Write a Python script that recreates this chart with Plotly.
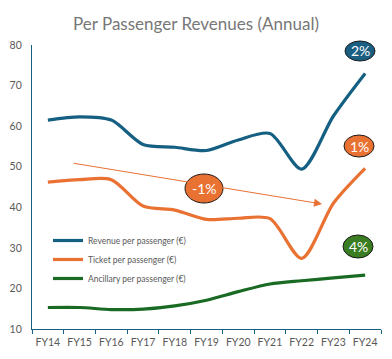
import plotly.graph_objects as go

years = ["FY14", "FY15", "FY16", "FY17", "FY18", "FY19", "FY20", "FY21", "FY22", "FY23", "FY24"]
revenue = [61.5, 62.3, 61.5, 55.5, 54.8, 54.0, 56.6, 58.2, 49.4, 62.5, 73.0]
ticket = [46.2, 46.8, 46.8, 40.3, 39.3, 37.0, 37.3, 37.2, 27.4, 41.0, 49.6]
ancillary = [15.3, 15.3, 14.8, 14.9, 15.7, 17.1, 19.2, 21.1, 21.9, 22.6, 23.3]

names = ["Revenue per passenger (€)", "Ticket per passenger (€)", "Ancillary per passenger (€)"]
colors = ["#156082", "#E97132", "#196B24"]
growth = ["2%", "1%", "4%"]
trend_label = "-1%"

W, H = 392, 359
L, R, T, B = 32, 11, 45, 30
PW, PH = W - L - R, H - T - B

def px(x):
    return (x - L) / PW

def py(y):
    return (H - B - y) / PH

fig = go.Figure()
for vals, name, col in zip([revenue, ticket, ancillary], names, colors):
    fig.add_trace(go.Scatter(x=years, y=vals, name=name, mode="lines",
                             line=dict(color=col, width=3.2, shape="spline", smoothing=0.8)))

shapes = []
annotations = []
# growth badges (ellipses) at right side
badge_fill = ["#1A5E82", "#E97132", "#3A7D22"]
badge_pos = [(345, 41, 375, 61), (344, 135, 374, 157), (343, 235, 373, 258)]
for (x0, y0, x1, y1), fc, txt in zip(badge_pos, badge_fill, growth):
    shapes.append(dict(type="circle", xref="paper", yref="paper",
                       x0=px(x0), x1=px(x1), y0=py(y1), y1=py(y0),
                       fillcolor=fc, line=dict(color="#1b1b1b", width=1), layer="below"))
    annotations.append(dict(xref="paper", yref="paper", x=px((x0 + x1) / 2), y=py((y0 + y1) / 2),
                            xanchor="center", yanchor="middle",
                            text=txt, showarrow=False, font=dict(color="white", size=14, family="Lato")))

# trend arrow
annotations.append(dict(xref="x domain", yref="y domain", axref="x domain", ayref="y domain",
                        x=px(322), y=py(204), ax=px(72), ay=py(163),
                        showarrow=True, arrowhead=2, arrowsize=1.6, arrowwidth=1,
                        arrowcolor="#E97132", text=""))
shapes.append(dict(type="circle", xref="paper", yref="paper",
                   x0=px(185), x1=px(223), y0=py(203), y1=py(174),
                   fillcolor="#E97132", line=dict(color="#1b1b1b", width=1), layer="below"))
annotations.append(dict(xref="paper", yref="paper", x=px(204), y=py(188.5),
                        xanchor="center", yanchor="middle",
                        text=trend_label, showarrow=False, font=dict(color="white", size=14, family="Lato")))

fig.update_layout(
    width=W, height=H,
    margin=dict(l=L, r=R, t=T, b=B, autoexpand=False),
    paper_bgcolor="white", plot_bgcolor="white",
    title=dict(text="Per Passenger Revenues (Annual)", x=0.5, xref="container", xanchor="center",
               y=1 - 24 / H, yref="container", yanchor="middle",
               font=dict(size=17, color="#777777", family="Lato")),
    font=dict(family="Lato", color="#595959"),
    showlegend=True,
    legend=dict(x=px(48), y=py(226), xanchor="left", yanchor="top", bgcolor="rgba(0,0,0,0)",
                font=dict(size=8.5, color="#595959"), tracegroupgap=0),
    shapes=shapes, annotations=annotations,
)
fig.update_xaxes(type="category", range=[-0.5, 10.5], showline=True, linecolor="#156082", linewidth=1.3,
                 ticks="outside", tickson="boundaries", ticklen=4, tickcolor="#156082", tickangle=0,
                 automargin=False, ticklabelstandoff=3,
                 tickfont=dict(size=10.5, color="#595959"), showgrid=False, zeroline=False)
fig.update_yaxes(range=[10, 80], dtick=10, showline=True, linecolor="#156082", linewidth=1.3,
                 ticks="", automargin=False, ticklabelstandoff=7,
                 tickfont=dict(size=10.5, color="#595959"), showgrid=False, zeroline=False)

fig.write_html("out.html", config={"displayModeBar": False},
               post_script="document.body.style.margin='0';document.body.style.padding='0';")
